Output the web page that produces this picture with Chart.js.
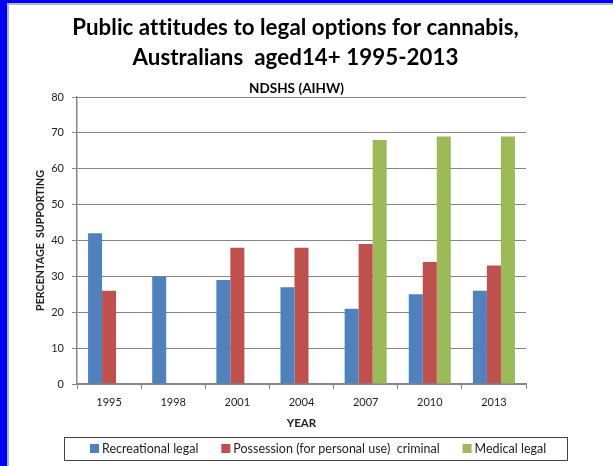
<!DOCTYPE html>
<html><head><meta charset="utf-8">
<script src="https://cdn.jsdelivr.net/npm/chart.js@4.4.1/dist/chart.umd.min.js"></script>
<style>html,body{margin:0;padding:0;background:#fff;overflow:hidden}canvas{display:block}</style>
</head><body>
<canvas id="c" width="613" height="466"></canvas>
<script>
const titleLines = ['Public attitudes to legal options for cannabis,', 'Australians  aged14+ 1995-2013'];
const subtitleText = 'NDSHS (AIHW)';
const xTitle = 'YEAR';
const yTitle = 'PERCENTAGE  SUPPORTING';
const years = ['1995', '1998', '2001', '2004', '2007', '2010', '2013'];
const recreationalLegal = [42, 30, 29, 27, 21, 25, 26];
const possessionCriminal = [26, null, 38, 38, 39, 34, 33];
const medicalLegal = [null, null, null, null, 68, 69, 69];
const seriesNames = ['Recreational legal', 'Possession (for personal use)  criminal', 'Medical legal'];
const seriesColors = ['#4F81BD', '#C0504D', '#9BBB59'];

const FONT = 'Lato, "Open Sans", sans-serif';
const GRID = '#868686';

const framePlugin = {
  id: 'frame',
  beforeDraw(chart) {
    const ctx = chart.ctx;
    ctx.save();
    ctx.fillStyle = '#ffffff';
    ctx.fillRect(0, 0, chart.width, chart.height);
    ctx.fillStyle = '#0000ff';
    ctx.fillRect(0, 0, chart.width, 3);
    ctx.fillRect(0, 0, 7, chart.height);
    ctx.fillStyle = '#b4b4b4';
    ctx.fillRect(7, 3, chart.width - 7, 2);
    ctx.fillRect(7, 3, 2, chart.height - 3);
    ctx.restore();
  },
  afterDraw(chart) {
    const ctx = chart.ctx;
    const ca = chart.chartArea;
    const cx = (ca.left + ca.right) / 2 - 6;
    ctx.save();
    ctx.fillStyle = '#000';
    ctx.textAlign = 'center';
    ctx.textBaseline = 'middle';
    if ('letterSpacing' in ctx) ctx.letterSpacing = '0.05px';
    ctx.font = 'bold 22.3px ' + FONT;
    ctx.fillText(titleLines[0], cx, ca.top - 69);
    ctx.fillText(titleLines[1], cx, ca.top - 39);
    ctx.font = 'bold 13.5px ' + FONT;
    ctx.fillText(subtitleText, cx + 1, ca.top - 8);
    if ('letterSpacing' in ctx) ctx.letterSpacing = '0px';

    // legend
    const boxL = ca.left - 13, boxR = ca.right + 41;
    const boxT = ca.bottom + 53, boxH = 23;
    ctx.strokeStyle = '#444';
    ctx.lineWidth = 1;
    ctx.strokeRect(boxL + 0.5, boxT + 0.5, boxR - boxL, boxH);
    ctx.font = '12.5px ' + FONT;
    ctx.textAlign = 'left';
    let x = boxL + 26;
    const cy = boxT + boxH / 2;
    chart.data.datasets.forEach((ds) => {
      ctx.fillStyle = ds.backgroundColor;
      ctx.fillRect(x, cy - 4.5, 9, 9);
      ctx.fillStyle = '#222';
      ctx.fillText(ds.label, x + 12, cy + 0.5);
      x += 12 + ctx.measureText(ds.label).width + 23;
    });
    ctx.restore();
  }
};

new Chart(document.getElementById('c'), {
  type: 'bar',
  data: {
    labels: years,
    datasets: [
      { label: seriesNames[0], data: recreationalLegal, backgroundColor: seriesColors[0] },
      { label: seriesNames[1], data: possessionCriminal, backgroundColor: seriesColors[1] },
      { label: seriesNames[2], data: medicalLegal, backgroundColor: seriesColors[2] }
    ]
  },
  options: {
    responsive: false,
    devicePixelRatio: 1,
    animation: false,
    layout: { padding: { left: 34, right: 87, top: 97, bottom: 36 } },
    datasets: { bar: { categoryPercentage: 0.655, barPercentage: 1.0 } },
    plugins: {
      legend: { display: false },
      title: { display: false },
      tooltip: { enabled: false }
    },
    scales: {
      x: {
        grid: { display: true, drawOnChartArea: false, drawTicks: true, tickLength: 5, offset: true, color: GRID },
        border: { color: GRID, width: 1.5 },
        ticks: { color: '#222', font: { family: FONT, size: 11 }, padding: 7 },
        title: { display: true, text: xTitle, color: '#222', font: { family: FONT, size: 11.5, weight: 'bold' }, padding: { top: 2, bottom: 0 } },
        afterFit(s) { s.height = 46; }
      },
      y: {
        min: 0, max: 80,
        ticks: { stepSize: 10, color: '#222', font: { family: FONT, size: 11 }, padding: 8 },
        grid: { color: GRID, lineWidth: 1, tickLength: 5 },
        border: { color: GRID, width: 1.5 },
        title: { display: true, text: yTitle, color: '#222', font: { family: FONT, size: 10.7, weight: 'bold' }, padding: 0 },
        afterFit(s) { s.width = 43; }
      }
    }
  },
  plugins: [framePlugin]
});
</script>
</body></html>
